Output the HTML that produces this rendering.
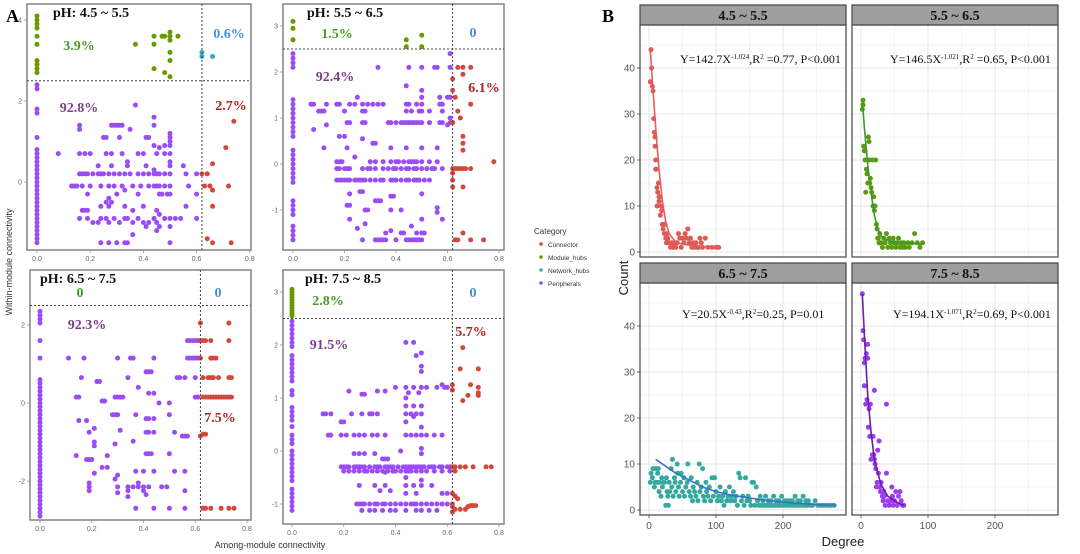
<!DOCTYPE html>
<html><head><meta charset="utf-8"><style>
html,body{margin:0;padding:0;background:#fff;}
svg{display:block;}
.tk{font-family:"Liberation Sans",sans-serif;font-size:7px;fill:#666;}
.tkb{font-family:"Liberation Sans",sans-serif;font-size:10px;fill:#555;}
.lab{font-family:"Liberation Serif",serif;font-weight:bold;font-size:14px;}
.eq{font-family:"Liberation Serif",serif;font-size:12px;fill:#111;}
</style></head><body>
<svg id="fig" width="1080" height="554" viewBox="0 0 1080 554" xmlns="http://www.w3.org/2000/svg">
<g id="layer"></g>
<text x="6" y="22" font-family="Liberation Serif" font-weight="bold" font-size="18">A</text>
<text x="602" y="22" font-family="Liberation Serif" font-weight="bold" font-size="18">B</text>
<text x="270" y="548" text-anchor="middle" font-family="Liberation Sans" font-size="9" fill="#333">Among-module connectivity</text>
<text transform="translate(12,262) rotate(-90)" text-anchor="middle" font-family="Liberation Sans" font-size="9" fill="#333">Within-module connectivity</text>
<text x="843" y="546" text-anchor="middle" font-family="Liberation Sans" font-size="13" fill="#222">Degree</text>
<text transform="translate(628,278) rotate(-90)" text-anchor="middle" font-family="Liberation Sans" font-size="13" fill="#222">Count</text>
<g>
<text x="534" y="234" font-family="Liberation Sans" font-size="8" fill="#333">Category</text>
<circle cx="541" cy="244" r="1.8" fill="#d2483c"/><text x="548" y="247" font-family="Liberation Sans" font-size="6.5" fill="#333">Connector</text>
<circle cx="541" cy="257" r="1.8" fill="#6b9a00"/><text x="548" y="260" font-family="Liberation Sans" font-size="6.5" fill="#333">Module_hubs</text>
<circle cx="541" cy="270" r="1.8" fill="#3aa9c4"/><text x="548" y="273" font-family="Liberation Sans" font-size="6.5" fill="#333">Network_hubs</text>
<circle cx="541" cy="283" r="1.8" fill="#9a4cf5"/><text x="548" y="286" font-family="Liberation Sans" font-size="6.5" fill="#333">Peripherals</text>
</g>
</svg>
<script>
// ===== Panel A data =====
const a1ColY = [2.4,2.3,1.8,1.7,1.1,0.8,0.7,0.6,0.5,0.4,0.3,0.2,0.1,0,-0.1,-0.2,-0.3,-0.4,-0.5,-0.6,-0.7,-0.8,-0.9,-1.0,-1.1,-1.2,-1.3,-1.4,-1.5];
const a1Periph = [[0.08,0.7],[0.16,0.7],[0.18,0.7],[0.2,0.7],[0.26,0.7],[0.28,0.7],[0.32,0.7],[0.38,0.7],[0.4,0.7],[0.45,0.7],[0.48,0.7],[0.5,0.7],
[0.16,0.2],[0.17,0.2],[0.18,0.2],[0.19,0.2],[0.21,0.2],[0.23,0.2],[0.24,0.2],[0.25,0.2],[0.27,0.2],[0.29,0.2],[0.31,0.2],[0.33,0.2],[0.35,0.2],[0.38,0.2],[0.4,0.2],[0.42,0.2],[0.44,0.2],[0.45,0.2],[0.46,0.2],[0.48,0.2],[0.5,0.2],[0.56,0.2],[0.6,0.2],
[0.13,-0.1],[0.14,-0.1],[0.15,-0.1],[0.17,-0.1],[0.2,-0.1],[0.24,-0.1],[0.27,-0.1],[0.29,-0.1],[0.32,-0.1],[0.36,-0.1],[0.39,-0.1],[0.42,-0.1],[0.44,-0.1],[0.45,-0.1],[0.46,-0.1],[0.48,-0.1],[0.5,-0.1],[0.57,-0.1],
[0.16,1.3],[0.16,1.4],[0.28,1.4],[0.29,1.4],[0.3,1.4],[0.31,1.4],[0.32,1.4],[0.37,1.9],[0.44,1.6],[0.44,1.4],[0.35,1.3],[0.25,1.1],[0.26,1.1],[0.31,1.1],[0.41,1.1],[0.42,1.1],[0.5,1.2],[0.5,1.1],[0.5,1.0],[0.5,0.9],[0.44,0.9],[0.48,0.9],[0.46,0.85],
[0.23,0.4],[0.28,0.4],[0.34,0.5],[0.34,0.4],[0.41,0.4],[0.44,0.3],[0.5,0.5],[0.5,0.4],[0.55,0.4],
[0.19,-0.3],[0.26,-0.5],[0.27,-0.4],[0.3,-0.3],[0.33,-0.2],[0.38,-0.3],[0.46,-0.3],[0.47,-0.3],[0.49,-0.3],[0.5,-0.3],[0.6,-0.3],
[0.17,-0.7],[0.18,-0.7],[0.19,-0.7],[0.24,-0.6],[0.27,-0.6],[0.28,-0.5],[0.33,-0.6],[0.36,-0.7],[0.4,-0.6],[0.45,-0.7],[0.56,-0.6],
[0.16,-0.9],[0.19,-0.9],[0.21,-1.0],[0.23,-1.0],[0.24,-0.9],[0.26,-0.9],[0.27,-1.0],[0.29,-0.9],[0.31,-1.0],[0.33,-0.9],[0.34,-0.9],[0.36,-1.0],[0.38,-0.9],[0.4,-1.0],[0.42,-1.0],[0.44,-0.9],[0.45,-1.0],[0.46,-0.8],[0.48,-0.9],[0.5,-0.9],[0.52,-0.9],[0.54,-0.9],[0.6,-0.9],
[0.24,-1.5],[0.27,-1.5],[0.3,-1.5],[0.33,-1.5],[0.34,-1.5],[0.5,-1.5],[0.36,-1.3],[0.45,-1.2],[0.41,-1.1],[0.46,-1.1],[0.5,-1.1]];
const a1Conn = [[0.62,0.2],[0.64,0.2],[0.66,0.45],[0.63,-0.1],[0.65,-0.1],[0.66,-0.2],[0.66,-0.6],[0.64,-1.4],[0.66,-1.5],[0.73,-1.5],[0.71,0.85],[0.74,1.5],[0.72,-0.1]];
const a1Hubs = [[0,2.7],[0,2.8],[0,2.9],[0,3.0],[0,3.4],[0,3.6],[0,3.8],[0,3.9],[0,4.0],[0,4.1],[0.37,3.4],[0.44,3.4],[0.44,3.6],[0.44,2.8],[0.47,3.6],[0.48,2.7],[0.48,3.6],[0.5,3.7],[0.5,3.6],[0.5,3.5],[0.5,3.2],[0.5,3.0],[0.5,2.6],[0.53,3.6]];
const a1Net = [[0.62,3.2],[0.62,3.1],[0.66,3.1]];

const a2ColY = [2.4,2.3,2.2,2.1,1.4,1.3,1.2,1.1,1.0,0.9,0.8,0.7,0.6,0.3,0.2,0.1,0,-0.1,-0.2,-0.3,-0.4,-0.8,-0.9,-1.0,-1.1,-1.35,-1.45,-1.55,-1.65];
const a2RowY = [1.3,1.15,0.9,0.05,-0.1,-0.35,-1.65];
const a2RowX = [[0.07,0.08,0.13,0.17,0.18,0.22,0.24,0.27,0.29,0.31,0.33,0.35,0.44,0.45,0.48,0.5,0.57,0.58],
[0.1,0.11,0.12,0.2,0.27,0.28,0.44,0.46,0.49,0.5,0.53,0.58],
[0.21,0.22,0.27,0.28,0.37,0.38,0.4,0.42,0.43,0.44,0.45,0.46,0.47,0.48,0.49,0.5,0.53,0.57,0.58,0.61],
[0.17,0.18,0.19,0.3,0.32,0.35,0.38,0.4,0.41,0.43,0.45,0.46,0.47,0.48,0.5,0.53,0.56],
[0.17,0.18,0.2,0.21,0.22,0.27,0.29,0.3,0.32,0.35,0.37,0.39,0.4,0.42,0.44,0.45,0.47,0.48,0.5,0.52,0.54,0.55,0.58],
[0.17,0.18,0.19,0.2,0.21,0.22,0.24,0.25,0.26,0.27,0.28,0.3,0.32,0.34,0.35,0.38,0.39,0.4,0.42,0.44,0.45,0.47,0.48,0.49,0.51,0.53],
[0.27,0.32,0.33,0.34,0.35,0.36,0.4,0.44,0.45,0.46,0.47,0.48,0.49,0.5]];
const a2Periph = [[0.33,2.1],[0.45,2.1],[0.5,2.1],[0.55,2.1],[0.56,2.1],[0.61,2.1],[0.61,2.4],[0.44,1.7],[0.5,1.6],[0.5,1.45],[0.57,1.45],[0.6,1.45],[0.61,1.45],[0.25,1.45],[0.08,0.75],[0.13,0.85],[0.12,0.35],[0.18,0.6],[0.2,0.6],[0.21,0.35],[0.27,0.55],[0.31,0.45],[0.32,0.45],[0.38,0.35],[0.44,0.35],[0.5,0.35],[0.56,0.35],[0.6,0.85],[0.61,1.0],[0.24,0.15],[0.22,-0.65],[0.26,-0.6],[0.27,-0.6],[0.32,-0.8],[0.33,-0.8],[0.34,-0.8],[0.38,-0.7],[0.39,-0.7],[0.5,-0.65],[0.21,-0.9],[0.22,-0.9],[0.28,-1.0],[0.29,-1.0],[0.38,-1.0],[0.42,-1.0],[0.5,-1.2],[0.56,-0.95],[0.56,-1.05],[0.58,-1.2],[0.22,-1.2],[0.25,-1.4],[0.28,-1.3],[0.36,-1.5],[0.38,-1.45],[0.42,-1.5],[0.43,-1.5],[0.46,-1.35],[0.48,-1.5],[0.5,-1.5],[0.51,-1.5]];
const a2Conn = [[0.62,1.85],[0.62,1.6],[0.63,1.45],[0.64,1.15],[0.65,1.0],[0.64,2.1],[0.66,2.1],[0.69,2.1],[0.66,1.95],[0.69,1.3],[0.62,0.9],[0.66,0.6],[0.66,0.45],[0.66,0.3],[0.62,-0.1],[0.63,-0.1],[0.64,-0.1],[0.65,-0.1],[0.66,-0.1],[0.67,-0.1],[0.69,-0.1],[0.62,-0.2],[0.62,-0.35],[0.62,-0.5],[0.66,-0.5],[0.78,0.05],[0.63,-1.65],[0.64,-1.65],[0.66,-1.5],[0.69,-1.65],[0.74,-1.65]];
const a2Hubs = [[0,3.1],[0,2.95],[0,2.7],[0.44,2.7],[0.44,2.55],[0.5,2.8],[0.5,2.55]];

const a3ColY = [2.35,2.25,2.15,2.05,1.6,1.15,0.6,0.5,0.4,0.3,0.2,0.1,0,-0.1,-0.2,-0.3,-0.4,-0.5,-0.6,-0.7,-0.8,-0.9,-1.0,-1.1,-1.2,-1.3,-1.4,-1.5,-1.6,-1.7,-1.8,-1.9,-2.0,-2.1,-2.2,-2.3,-2.4,-2.5,-2.6,-2.7,-2.8,-2.9];
const a3Periph = [[0.11,1.15],[0.17,1.15],[0.3,1.15],[0.35,1.15],[0.36,1.15],[0.44,1.15],[0.57,1.15],[0.58,1.15],[0.59,1.15],[0.6,1.15],[0.61,1.15],
[0.16,0.65],[0.22,0.55],[0.23,0.55],[0.34,0.65],[0.41,0.8],[0.42,0.8],[0.43,0.8],[0.38,0.4],[0.42,0.25],[0.44,0.25],[0.53,0.65],[0.54,0.65],[0.56,0.65],[0.6,0.65],[0.57,1.6],[0.58,1.6],[0.59,1.6],[0.6,1.6],[0.61,1.6],[0.6,0.15],[0.61,0.15],
[0.14,0.15],[0.15,0.15],[0.24,0.05],[0.25,0.05],[0.29,0.15],[0.3,0.15],[0.31,0.15],[0.32,0.15],[0.46,0.0],[0.5,0.0],
[0.15,-0.45],[0.18,-0.45],[0.28,-0.3],[0.29,-0.3],[0.3,-0.3],[0.37,-0.3],[0.41,-0.4],[0.42,-0.4],[0.44,-0.4],[0.5,-0.3],
[0.19,-0.75],[0.21,-0.65],[0.31,-0.7],[0.41,-0.75],[0.42,-0.75],[0.44,-0.75],[0.52,-0.75],[0.55,-0.85],[0.56,-0.85],[0.57,-0.85],
[0.21,-1.0],[0.21,-1.1],[0.29,-1.05],[0.36,-0.98],[0.14,-1.35],[0.18,-1.45],[0.19,-1.45],[0.2,-1.45],[0.26,-1.35],[0.41,-1.3],[0.42,-1.3],[0.43,-1.3],[0.5,-1.3],
[0.21,-1.8],[0.24,-1.65],[0.26,-1.65],[0.29,-1.95],[0.3,-1.85],[0.37,-1.75],[0.4,-1.75],[0.44,-1.75],[0.52,-1.75],[0.56,-1.75],
[0.19,-2.05],[0.19,-2.15],[0.19,-2.25],[0.3,-2.15],[0.3,-2.3],[0.34,-2.15],[0.34,-2.25],[0.34,-2.4],[0.36,-2.15],[0.38,-2.05],[0.38,-2.15],[0.4,-2.15],[0.4,-2.25],[0.41,-2.35],[0.42,-2.15],[0.47,-2.15],[0.49,-2.15],[0.56,-2.25],
[0.37,-2.7],[0.44,-2.7],[0.5,-2.7],[0.56,-2.7]];
const a3Conn = [[0.62,2.05],[0.73,2.05],[0.62,1.6],[0.63,1.6],[0.64,1.6],[0.66,1.6],[0.73,1.6],[0.62,1.15],[0.66,1.15],[0.67,1.15],[0.68,1.15],[0.63,0.65],[0.65,0.65],[0.66,0.65],[0.67,0.65],[0.69,0.65],[0.73,0.65],[0.74,0.65],[0.63,0.15],[0.64,0.15],[0.65,0.15],[0.66,0.15],[0.67,0.15],[0.68,0.15],[0.69,0.15],[0.7,0.15],[0.71,0.15],[0.72,0.15],[0.73,0.15],[0.74,0.15],[0.63,-0.8],[0.64,-0.8],[0.62,-0.85],[0.63,-2.7],[0.64,-2.7],[0.66,-2.7],[0.7,-2.7],[0.73,-2.7],[0.75,-2.7]];

const a4HubColY = [3.05,3.0,2.95,2.9,2.85,2.8,2.75,2.7,2.65,2.6,2.55];
const a4ColY = [2.45,2.37,2.29,2.21,2.13,2.05,1.97,1.8,1.72,1.64,1.56,1.48,1.4,1.32,1.14,1.06,0.82,0.74,0.66,0.58,0.46,0.3,0.22,0.14,0.0,-0.08,-0.16,-0.24,-0.32,-0.4,-0.48,-0.56,-0.72,-0.8,-0.88,-0.96,-1.04,-1.12];
const a4RowY = [-0.3,-0.38,-1.0,-1.12,0.3,0.7,1.2];
const a4RowX = [[0.19,0.2,0.21,0.22,0.24,0.25,0.26,0.27,0.28,0.3,0.32,0.33,0.34,0.36,0.37,0.38,0.39,0.41,0.43,0.44,0.45,0.46,0.47,0.48,0.49,0.5,0.51,0.53,0.54,0.55,0.57,0.58,0.6,0.61],
[0.2,0.22,0.24,0.26,0.28,0.29,0.31,0.33,0.35,0.37,0.39,0.4,0.42,0.44,0.45,0.46,0.48,0.5,0.52,0.55,0.58,0.61],
[0.25,0.26,0.27,0.28,0.3,0.32,0.33,0.35,0.36,0.38,0.4,0.42,0.44,0.46,0.47,0.48,0.5,0.52,0.54,0.56,0.58,0.6],
[0.27,0.3,0.32,0.35,0.38,0.4,0.44,0.48,0.5,0.53,0.56],
[0.14,0.15,0.19,0.21,0.24,0.26,0.28,0.31,0.33,0.36,0.44,0.46,0.48,0.5,0.52,0.55,0.58],
[0.12,0.13,0.15,0.23,0.27,0.3,0.31,0.33,0.44,0.46,0.48,0.5],
[0.4,0.44,0.47,0.5,0.52,0.56,0.59,0.6]];
const a4Periph = [[0.22,1.13],[0.27,1.07],[0.28,1.07],[0.33,1.13],[0.36,1.13],[0.44,2.05],[0.47,2.05],[0.48,1.8],[0.5,1.85],[0.5,1.6],[0.5,1.5],[0.44,1.0],[0.44,0.85],[0.47,0.85],[0.5,0.85],[0.49,1.1],[0.45,1.1],[0.58,1.25],[0.19,0.55],[0.2,0.55],[0.24,-0.05],[0.26,-0.05],[0.28,-0.05],[0.32,-0.05],[0.35,-0.15],[0.36,-0.15],[0.37,-0.15],[0.42,0.0],[0.5,0.05],[0.5,-0.05],[0.26,-0.65],[0.32,-0.65],[0.34,-0.75],[0.36,-0.65],[0.38,-0.75],[0.44,-0.65],[0.44,-0.8],[0.47,-0.65],[0.48,-0.8],[0.5,-0.65],[0.54,-0.65],[0.58,-0.8],[0.6,-0.8],[0.44,0.55],[0.47,0.65],[0.5,0.45],[0.36,-0.4],[0.44,-0.5],[0.5,-0.55]];
const a4Conn = [[0.62,1.25],[0.62,1.15],[0.65,1.55],[0.66,1.95],[0.69,1.25],[0.72,1.55],[0.72,1.2],[0.72,1.1],[0.72,1.05],[0.66,0.95],[0.68,1.05],[0.62,-0.3],[0.63,-0.3],[0.65,-0.3],[0.67,-0.3],[0.7,-0.3],[0.75,-0.3],[0.77,-0.3],[0.63,-0.38],[0.62,-0.8],[0.63,-0.85],[0.64,-0.9],[0.62,-1.0],[0.62,-1.05],[0.63,-1.1],[0.65,-1.1],[0.67,-1.1],[0.68,-1.05],[0.69,-1.03],[0.7,-1.03],[0.71,-1.03],[0.62,-1.15]];

// ===== Panel B data =====
const b1Deg = [2,3,4,5,6,7,8,9,9,10,10,11,12,12,13,14,15,15,16,17,18,19,20,21,22,23,24,25,26,27,28,30,32,34,36,38,40,42,44,46,48,50,52,54,56,58,60,62,64,66,68,70,72,74,76,78,80,84,88,94,100,104];
const b1Cnt = [37,44,40,36,35,29,26,25,23,20,18,18,14,10,13,15,12,11,12,8,10,9,6,5,6,4,6,3,2,4,3,2,1,2,1,2,1,2,4,3,1,3,2,4,3,5,2,3,1,2,1,2,1,1,3,2,1,3,1,1,1,1];
const b1CurveX = [2,5,10,15,20,25,30,40,50,60,70,80,92,104];
const b1CurveY = [44,37,27,18,11,6.5,4,2.2,1.7,1.5,1.3,1.2,1.1,1.05];
const b2Deg = [2,3,3,4,5,6,6,7,8,9,10,11,12,12,13,14,15,16,17,18,19,20,21,22,23,24,25,26,27,28,30,32,34,36,38,40,42,44,46,48,50,52,54,56,58,60,62,64,66,70,72,76,80,84,88,92];
const b2Cnt = [31,33,32,23,22,22,20,13,18,17,15,25,24,20,15,16,14,13,20,10,12,9,10,20,6,5,3,3,2,4,2,1,3,2,4,1,3,2,1,3,2,1,2,3,1,2,1,2,1,2,1,2,4,2,1,2];
const b2CurveX = [2,5,10,15,20,25,30,35,40,50,60,70,80,92];
const b2CurveY = [33,27,19,13,8,5,3.5,2.8,2.5,2.2,2,1.9,1.8,1.7];
const b3Deg = [2,3,5,6,8,9,10,12,13,14,15,16,18,19,20,22,23,25,26,27,28,29,30,31,33,34,35,36,38,39,40,42,43,44,45,47,48,50,52,53,55,57,58,60,62,63,65,66,68,70,72,73,75,76,78,80,81,83,85,86,88,90,92,94,96,98,100,102,104,106,108,110,112,114,116,118,120,122,124,126,128,130,132,134,136,138,140,142,144,146,148,150,152,154,156,158,160,162,164,166,168,170,172,174,176,178,180,182,184,186,188,190,192,194,196,198,200,202,204,206,208,210,212,214,216,218,220,222,224,226,228,230,232,234,236,238,240,244,248,252,256,260,264,268,272,276];
const b3Cnt = [6,8,7,9,5,6,9,6,8,9,4,6,3,7,5,6,6,1,7,4,3,1,6,4,9,5,11,3,7,6,4,10,8,5,3,6,8,4,7,3,5,6,10,4,3,7,2,5,4,3,6,2,10,4,5,9,3,2,6,4,3,5,2,7,3,7,4,2,3,5,2,3,1,4,2,3,5,2,3,4,2,3,1,8,7,2,3,1,7,2,3,2,1,6,6,1,5,2,1,3,1,2,1,3,1,2,1,2,1,3,1,2,1,2,1,3,1,2,1,2,1,2,1,2,1,3,1,2,1,2,1,3,1,2,1,2,1,1,2,1,1,1,1,1,1,1];
const b3CurveX = [10,20,30,40,60,80,100,120,150,180,200,230,260,280];
const b3CurveY = [11,10,9,8,6.5,5,4,3.3,2.6,2,1.7,1.4,1.1,1];
const b4Deg = [2,3,4,5,5,6,7,8,8,9,10,10,11,12,13,14,15,16,17,18,19,20,20,21,22,23,24,25,26,27,28,29,30,31,32,33,34,35,36,38,38,40,42,44,46,47,48,50,52,54,56,58,60,62,64];
const b4Cnt = [47,39,37,32,27,33,23,36,34,24,36,33,18,22,16,23,11,16,12,16,12,11,26,10,9,5,6,13,8,15,5,4,6,4,3,2,4,3,1,23,8,2,1,2,5,3,1,2,4,1,3,4,2,1,1];
const b4CurveX = [2,5,10,15,20,25,30,40,50,60,65];
const b4CurveY = [47,38,25,17,11,8,5.5,3,2,1.2,1];

const C = {per:'#9a4cf5', con:'#d2483c', hub:'#6b9a00', net:'#3aa9c4'};
const NS = 'http://www.w3.org/2000/svg';
const layer = document.getElementById('layer');
function mk(tag, attrs, parent){const e=document.createElementNS(NS,tag);for(const k in attrs)e.setAttribute(k,attrs[k]);(parent||layer).appendChild(e);return e;}

// ===== Panel A =====
function panelA(name, box, x0, kx, y0, ky, yTicks, hY, vX, sets){
  const g = mk('g',{});
  
  
  const sx = v => x0 + v*kx, sy = v => y0 - v*ky;
  const fr = mk('rect',{x:box[0],y:box[1],width:box[2]-box[0],height:box[3]-box[1],fill:'#fff',stroke:'#8a8a8a','stroke-width':1.6},g);
  
  
  [0,0.2,0.4,0.6,0.8].forEach(t=>{
    const X=sx(t); if(X>box[2]+1) return;
    mk('line',{x1:X,y1:box[3],x2:X,y2:box[3]+3,stroke:'#888','stroke-width':0.7},g);
    const tx=mk('text',{x:X,y:box[3]+11,'text-anchor':'middle',class:'tk'},g); tx.textContent=t.toFixed(1);
    
    
  });
  yTicks.forEach(t=>{
    const Y=sy(t);
    mk('line',{x1:box[0]-3,y1:Y,x2:box[0],y2:Y,stroke:'#888','stroke-width':0.7},g);
    const tx=mk('text',{x:box[0]-5,y:Y+2.5,'text-anchor':'end',class:'tk'},g); tx.textContent=t;
    
    
  });
  sets.forEach(s=>{
    s.pts.forEach(p=>{
      const c=mk('circle',{cx:sx(p[0]),cy:sy(p[1]),r:2.5,fill:s.col},g);
      
      
    });
  });
  const hl=mk('line',{x1:box[0],y1:sy(hY),x2:box[2],y2:sy(hY),stroke:'#444','stroke-width':1,'stroke-dasharray':'2,2'},g);
  
  
  const vl=mk('line',{x1:sx(vX),y1:box[1],x2:sx(vX),y2:box[3],stroke:'#444','stroke-width':1,'stroke-dasharray':'2,2'},g);
  
  
}
function col(ys){return ys.map(y=>[0,y]);}
function rows(ry,rx){const o=[];ry.forEach((y,i)=>rx[i].forEach(x=>o.push([x,y])));return o;}

panelA('zp-plot-ph-4.5-5.5',[27,4,251,250],37,266,182,40.5,[0,2,4],2.5,0.62,[
  {pts:col(a1ColY).concat(a1Periph),col:C.per,name:'peripheral-point'},
  {pts:a1Conn,col:C.con,name:'connector-point'},
  {pts:a1Hubs,col:C.hub,name:'module-hub-point'},
  {pts:a1Net,col:C.net,name:'network-hub-point'}]);
panelA('zp-plot-ph-5.5-6.5',[283,4,504,250],293,257.5,164,46,[-1,0,1,2,3],2.5,0.62,[
  {pts:col(a2ColY).concat(rows(a2RowY,a2RowX),a2Periph),col:C.per,name:'peripheral-point'},
  {pts:a2Conn,col:C.con,name:'connector-point'},
  {pts:a2Hubs,col:C.hub,name:'module-hub-point'}]);
panelA('zp-plot-ph-6.5-7.5',[30,270,251,520],40,258.75,403,39,[-2,0,2],2.5,0.62,[
  {pts:col(a3ColY).concat(a3Periph),col:C.per,name:'peripheral-point'},
  {pts:a3Conn,col:C.con,name:'connector-point'}]);
panelA('zp-plot-ph-7.5-8.5',[283,270,504,524],292,258.75,451,53,[-1,0,1,2,3],2.5,0.62,[
  {pts:col(a4ColY).concat(rows(a4RowY,a4RowX),a4Periph),col:C.per,name:'peripheral-point'},
  {pts:a4Conn,col:C.con,name:'connector-point'},
  {pts:col(a4HubColY),col:C.hub,name:'module-hub-point'}]);

// ===== Panel B =====
function panelB(name, title, px0, py0, pw, ph, stripY, deg, cnt, cx, cy, ptCol, lnCol, eq, eqX, eqY, showY, showX){
  const g = mk('g',{});
  
  
  const ox = px0 + 9, ky = 4.6;
  const oy = py0 + ph - 5;
  const sx = v => ox + v*0.67, sy = v => oy - v*ky;
  mk('rect',{x:px0,y:py0,width:pw,height:ph,fill:'#fff'},g);
  [50,150,250].forEach(t=>mk('line',{x1:sx(t),y1:py0,x2:sx(t),y2:py0+ph,stroke:'#f2f2f2','stroke-width':0.8},g));
  [5,15,25,35,45].forEach(t=>mk('line',{x1:px0,y1:sy(t),x2:px0+pw,y2:sy(t),stroke:'#f2f2f2','stroke-width':0.8},g));
  [0,100,200].forEach(t=>mk('line',{x1:sx(t),y1:py0,x2:sx(t),y2:py0+ph,stroke:'#e6e6e6','stroke-width':1.1},g));
  [0,10,20,30,40].forEach(t=>mk('line',{x1:px0,y1:sy(t),x2:px0+pw,y2:sy(t),stroke:'#e6e6e6','stroke-width':1.1},g));
  deg.forEach((d,i)=>{
    const c=mk('circle',{cx:sx(d),cy:sy(cnt[i]),r:2.5,fill:ptCol},g);
    
    
  });
  const path = mk('path',{d:cx.map((d,i)=>(i?'L':'M')+sx(d).toFixed(1)+','+sy(cy[i]).toFixed(1)).join(' '),fill:'none',stroke:lnCol,'stroke-width':1.6},g);
  
  
  mk('rect',{x:px0,y:py0,width:pw,height:ph,fill:'none',stroke:'#444','stroke-width':1.2},g);
  const st=mk('rect',{x:px0,y:stripY,width:pw,height:py0-stripY,fill:'#9e9e9e',stroke:'#444','stroke-width':1.2},g);
  
  
  const stt=mk('text',{x:px0+pw/2,y:stripY+15,'text-anchor':'middle',class:'lab',fill:'#111','font-size':'17'},g); stt.textContent=title;
  
  
  const et=mk('text',{x:eqX,y:eqY,class:'eq'},g); et.innerHTML=eq;
  
  
  if(showY){[0,10,20,30,40].forEach(t=>{
    mk('line',{x1:px0-3,y1:sy(t),x2:px0,y2:sy(t),stroke:'#444','stroke-width':0.8},g);
    const tx=mk('text',{x:px0-5,y:sy(t)+3.5,'text-anchor':'end',class:'tkb'},g); tx.textContent=t;
    
    
  });}
  if(showX){[0,100,200].forEach(t=>{
    mk('line',{x1:sx(t),y1:py0+ph,x2:sx(t),y2:py0+ph+3,stroke:'#444','stroke-width':0.8},g);
    const tx=mk('text',{x:sx(t),y:py0+ph+14,'text-anchor':'middle',class:'tkb'},g); tx.textContent=t;
    
    
  });}
}
const sup = s => '<tspan dy="-4" font-size="7">'+s+'</tspan><tspan dy="4">';
panelB('degree-plot-4.5-5.5','4.5 ~ 5.5',640,25,206,232,5,b1Deg,b1Cnt,b1CurveX,b1CurveY,'#dd5a55','#e06060',
  'Y=142.7X'+sup('-1.024')+',R'+sup('2')+' =0.77, P&lt;0.001</tspan></tspan>',680,63,true,false);
panelB('degree-plot-5.5-6.5','5.5 ~ 6.5',852,25,206,232,5,b2Deg,b2Cnt,b2CurveX,b2CurveY,'#5e9a10','#3a9a2a',
  'Y=146.5X'+sup('-1.021')+',R'+sup('2')+' =0.65, P&lt;0.001</tspan></tspan>',890,63,false,false);
panelB('degree-plot-6.5-7.5','6.5 ~ 7.5',640,283,206,232,263,b3Deg,b3Cnt,b3CurveX,b3CurveY,'#35a8a0','#3a70c8',
  'Y=20.5X'+sup('-0.43')+',R'+sup('2')+'=0.25, P=0.01</tspan></tspan>',682,318,true,true);
panelB('degree-plot-7.5-8.5','7.5 ~ 8.5',852,283,206,232,263,b4Deg,b4Cnt,b4CurveX,b4CurveY,'#9a3cf0','#6a1fa0',
  'Y=194.1X'+sup('-1.071')+',R'+sup('2')+'=0.69, P&lt;0.001</tspan></tspan>',893,318,false,true);

// ===== Panel A annotations =====
const ann = [
 ['pH: 4.5 ~ 5.5',53,17,'#111','start'],['3.9%',79,50,'#4a9a2a','middle'],['0.6%',229,38,'#4a90d0','middle'],['92.8%',79,112,'#7a3d8a','middle'],['2.7%',231,110,'#b02020','middle'],
 ['pH: 5.5 ~ 6.5',307,17,'#111','start'],['1.5%',337,38,'#4a9a2a','middle'],['0',473,37,'#4a90d0','middle'],['92.4%',335,81,'#7a3d8a','middle'],['6.1%',484,92,'#b02020','middle'],
 ['pH: 6.5 ~ 7.5',40,283,'#111','start'],['0',80,297,'#4a9a2a','middle'],['0',218,297,'#4a90d0','middle'],['92.3%',87,329,'#7a3d8a','middle'],['7.5%',220,422,'#b02020','middle'],
 ['pH: 7.5 ~ 8.5',305,283,'#111','start'],['2.8%',328,305,'#4a9a2a','middle'],['0',473,297,'#4a90d0','middle'],['91.5%',329,349,'#7a3d8a','middle'],['5.7%',471,336,'#b02020','middle']];
ann.forEach(a=>{
  const t=mk('text',{x:a[1],y:a[2],fill:a[3],'text-anchor':a[4],class:'lab'});
  t.textContent=a[0];
  
  
});
</script>
</body></html>
